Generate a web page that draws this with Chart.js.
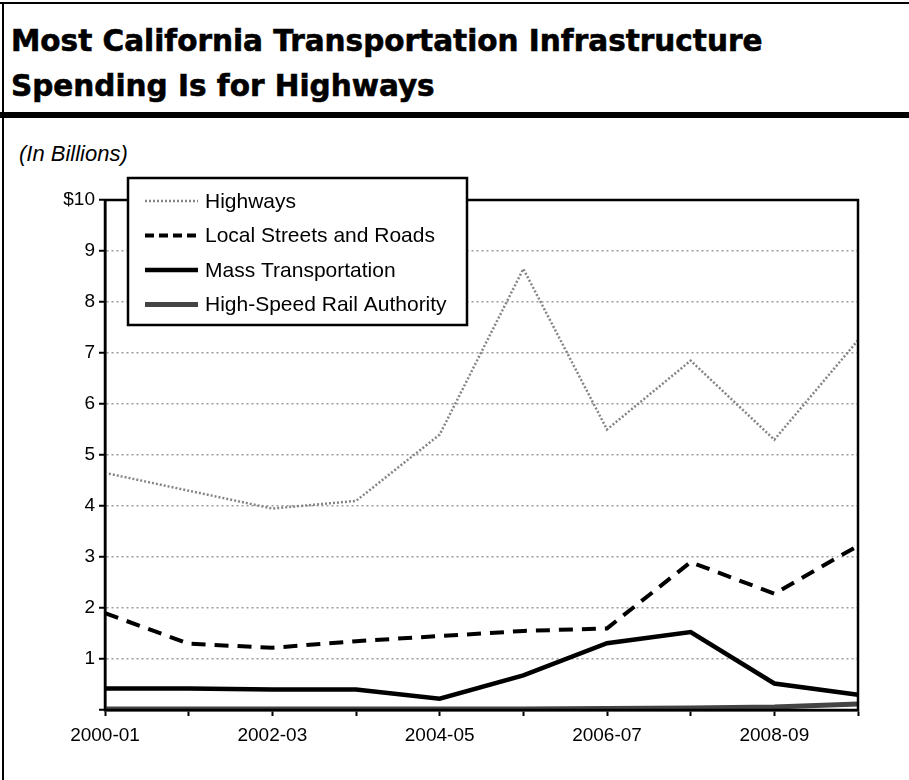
<!DOCTYPE html>
<html lang="en">
<head>
    <meta charset="UTF-8">
    <title>Most California Transportation Infrastructure Spending Is for Highways</title>
    <script src="https://cdn.jsdelivr.net/npm/chart.js"></script>
    <style>
        body { margin: 0; background: #fff; }
        .page { position: relative; width: 909px; height: 780px; overflow: hidden; font-family: "Liberation Sans", Arial, sans-serif; }
        .frame-top { position: absolute; left: 0; top: 2px; width: 909px; height: 2px; background: #000; }
        .frame-left { position: absolute; left: 2px; top: 2px; width: 2px; height: 778px; background: #000; }
        .title { position: absolute; left: 11px; top: 19px; font-family: "DejaVu Sans", sans-serif; font-size: 29.5px; font-weight: bold; line-height: 45px; color: #000; -webkit-text-stroke: 0.6px #000; letter-spacing: 0; }
        .rule { position: absolute; left: 0; top: 112px; width: 909px; height: 6px; background: #000; }
        .units { position: absolute; left: 19px; top: 141px; font-size: 22px; font-style: italic; color: #000; }
        canvas { position: absolute; left: 0; top: 0; }
    </style>
</head>
<body>
<div class="page">
    <div class="frame-top"></div>
    <div class="frame-left"></div>
    <div class="title">Most California Transportation Infrastructure<br>Spending Is for Highways</div>
    <div class="rule"></div>
    <div class="units">(In Billions)</div>
    <canvas id="spendingChart" width="909" height="780"></canvas>
</div>

<script>
    const years = ['2000-01', '2001-02', '2002-03', '2003-04', '2004-05',
                   '2005-06', '2006-07', '2007-08', '2008-09', '2009-10'];
    const highways      = [4.65, 4.3, 3.95, 4.1, 5.4, 8.65, 5.5, 6.85, 5.3, 7.25];
    const localStreets  = [1.9, 1.3, 1.22, 1.35, 1.45, 1.55, 1.6, 2.9, 2.28, 3.22];
    const massTransit   = [0.42, 0.42, 0.4, 0.4, 0.22, 0.68, 1.31, 1.53, 0.52, 0.3];
    const highSpeedRail = [0.02, 0.02, 0.02, 0.02, 0.02, 0.02, 0.03, 0.04, 0.06, 0.12];
    const yTickLabels = { 10: '$10', 9: '9', 8: '8', 7: '7', 6: '6', 5: '5', 4: '4', 3: '3', 2: '2', 1: '1', 0: '' };

    const FONT = '"Liberation Sans", Arial, sans-serif';

    // legend drawn inside the plot, box overlapping the top border
    const boxLegend = {
        id: 'boxLegend',
        afterDraw(chart) {
            const { ctx, chartArea } = chart;
            const left = chartArea.left + 23, top = chartArea.top - 22;
            const w = 339, h = 147;
            ctx.save();
            ctx.fillStyle = '#fff';
            ctx.fillRect(left, top, w, h);
            ctx.lineWidth = 2.5;
            ctx.strokeStyle = '#000';
            ctx.strokeRect(left, top, w, h);
            ctx.font = '21px ' + FONT;
            ctx.textBaseline = 'middle';
            chart.data.datasets.forEach((ds, i) => {
                const y = top + 23 + i * 34.5;
                ctx.beginPath();
                ctx.setLineDash(ds.legendDash || []);
                ctx.lineWidth = ds.borderWidth;
                ctx.strokeStyle = ds.borderColor;
                ctx.moveTo(left + 17, y);
                ctx.lineTo(left + 70, y);
                ctx.stroke();
                ctx.setLineDash([]);
                ctx.fillStyle = '#000';
                ctx.fillText(ds.label, left + 77, y + 1);
            });
            ctx.restore();
        }
    };

    // black box round the plot area
    const plotFrame = {
        id: 'plotFrame',
        afterDatasetsDraw(chart) {
            const { ctx, chartArea } = chart;
            ctx.save();
            ctx.lineWidth = 2.5;
            ctx.strokeStyle = '#000';
            ctx.strokeRect(chartArea.left, chartArea.top, chartArea.right - chartArea.left, chartArea.bottom - chartArea.top);
            ctx.restore();
        }
    };

    const ctx = document.getElementById('spendingChart').getContext('2d');
    new Chart(ctx, {
        type: 'line',
        data: {
            labels: years,
            datasets: [{
                label: 'Highways',
                data: highways,
                borderColor: '#858585',
                borderWidth: 2.5,
                borderDash: [2, 2],
                legendDash: [2, 2],
                pointRadius: 0,
                tension: 0
            }, {
                label: 'Local Streets and Roads',
                data: localStreets,
                borderColor: '#000',
                borderWidth: 4,
                borderDash: [14, 9],
                legendDash: [9, 5],
                pointRadius: 0,
                tension: 0
            }, {
                label: 'Mass Transportation',
                data: massTransit,
                borderColor: '#000',
                borderWidth: 4.5,
                pointRadius: 0,
                tension: 0
            }, {
                label: 'High-Speed Rail Authority',
                data: highSpeedRail,
                borderColor: '#444',
                borderWidth: 5,
                pointRadius: 0,
                tension: 0
            }]
        },
        options: {
            responsive: false,
            animation: false,
            layout: { padding: { top: 200, right: 51, bottom: 20, left: 0 } },
            plugins: {
                legend: { display: false },
                tooltip: { enabled: false }
            },
            scales: {
                x: {
                    offset: false,
                    afterFit(scale) { scale.height = 50; },
                    grid: { drawOnChartArea: false, drawTicks: true, tickLength: 6, tickColor: '#000', tickWidth: 2 },
                    border: { display: true, color: '#000', width: 2.5 },
                    ticks: {
                        color: '#000',
                        font: { family: FONT, size: 19 },
                        maxRotation: 0,
                        autoSkip: false,
                        padding: 8,
                        callback: (v, i) => (i % 2 === 0 ? years[i] : '')
                    }
                },
                y: {
                    min: 0,
                    max: 10,
                    afterFit(scale) { scale.width = 105; },
                    grid: {
                        color: (c) => (c.tick.value === 0 || c.tick.value === 10 ? 'rgba(0,0,0,0)' : '#9a9a9a'),
                        lineWidth: 1.5,
                        drawTicks: true,
                        tickLength: 6,
                        tickColor: '#000',
                        tickWidth: 2,
                        tickBorderDash: []
                    },
                    border: { display: true, color: '#000', width: 2.5, dash: [2, 3] },
                    ticks: {
                        stepSize: 1,
                        color: '#000',
                        padding: 4,
                        font: { family: FONT, size: 19 },
                        callback: (v) => yTickLabels[v]
                    }
                }
            }
        },
        plugins: [plotFrame, boxLegend]
    });
</script>
</body>
</html>
